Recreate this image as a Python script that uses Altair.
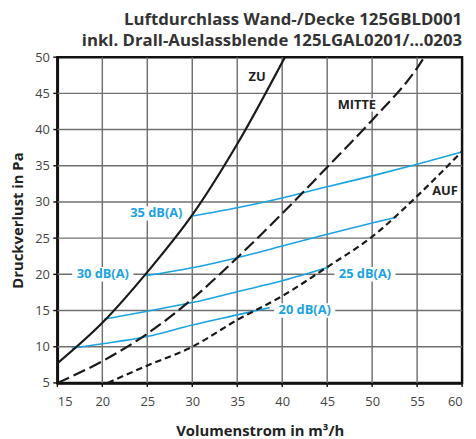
import altair as alt
import pandas as pd

# ---- data ----
zu_x = [15, 20, 25, 30, 35, 40.3]
zu_y = [7.7, 13.3, 20.3, 28.2, 38.0, 50]
mitte_x = [15, 20, 25, 30, 35, 40, 45, 50, 55, 55.8]
mitte_y = [5, 8.0, 11.8, 16.6, 22.3, 28.4, 34.8, 41.3, 48.5, 50]
auf_x = [20.6, 25, 30, 35, 40, 45, 50, 55, 60]
auf_y = [5, 7.4, 10.0, 13.7, 17.0, 21.0, 25.2, 30.8, 37.0]

db35_x = [30, 35, 40, 45, 50, 55, 60]
db35_y = [28.05, 29.2, 30.55, 32.1, 33.6, 35.2, 36.9]
db30_x = [24.8, 30, 35, 40, 45, 50, 52.7]
db30_y = [19.8, 20.9, 22.3, 23.9, 25.55, 27.1, 27.9]
db25_x = [20.2, 25, 30, 35, 40, 45.2]
db25_y = [13.8, 14.9, 16.1, 17.6, 19.1, 21.0]
db20_x = [16.6, 20, 25, 30, 35, 38.6]
db20_y = [9.8, 10.4, 11.4, 13.0, 14.4, 15.4]

db_labels = ["35 dB(A)", "30 dB(A)", "25 dB(A)", "20 dB(A)"]
db_label_x = [26.0, 20.05, 49.2, 42.5]
db_label_y = [28.4, 20, 20, 15]

curve_labels = ["ZU", "MITTE", "AUF"]
curve_label_x = [37.2, 48.3, 58.1]
curve_label_y = [47.3, 43.4, 31.5]

x_ticks = [15, 20, 25, 30, 35, 40, 45, 50, 55, 60]
y_ticks = [5, 10, 15, 20, 25, 30, 35, 40, 45, 50]

title_lines = ["Luftdurchlass Wand-/Decke 125GBLD001",
               "inkl. Drall-Auslassblende 125LGAL0201/...0203"]

FONT = "Open Sans"
BLUE = "#1aa3e0"
GRID = "#707070"


def series(xs, ys, name):
    return pd.DataFrame({"x": xs, "y": ys, "s": name, "o": range(len(xs))})


xs = alt.Scale(domain=[15, 60], nice=False, zero=False)
ys = alt.Scale(domain=[5, 50], nice=False, zero=False)
x_axis = alt.Axis(values=x_ticks, title="Volumenstrom in m³/h", grid=False,
                  ticks=False, labelOverlap=False)
y_axis = alt.Axis(values=y_ticks, title="Druckverlust in Pa", grid=False,
                  ticks=False, labelOverlap=False)

X = alt.X("x:Q", scale=xs, axis=x_axis)
Y = alt.Y("y:Q", scale=ys, axis=y_axis)

x0, x1 = x_ticks[0], x_ticks[-1]
y0, y1 = y_ticks[0], y_ticks[-1]

# grid lines and ticks drawn as thin filled bands (about 1.4 px wide)
hw_x = 0.08   # half band width in x units
hw_y = 0.1    # half band width in y units
tick_x = 0.45  # tick length in x units (about 4 px)
tick_y = 0.55  # tick length in y units (about 4 px)
band_rows = []
for t in x_ticks[1:-1]:
    band_rows.append(dict(a=t - hw_x, b=t + hw_x, c=y0, d=y1, k="grid"))
for t in y_ticks[1:-1]:
    band_rows.append(dict(a=x0, b=x1, c=t - hw_y, d=t + hw_y, k="grid"))
for t in x_ticks:
    band_rows.append(dict(a=t - hw_x, b=t + hw_x, c=y0 - tick_y, d=y0, k="tick"))
for t in y_ticks:
    band_rows.append(dict(a=x0 - tick_x, b=x0, c=t - hw_y, d=t + hw_y, k="tick"))
bands_df = pd.DataFrame(band_rows)


def bands(kind, color):
    return alt.Chart(bands_df[bands_df["k"] == kind]).mark_rect(fill=color).encode(
        x=alt.X("a:Q", scale=xs, axis=x_axis), x2=alt.X2("b"),
        y=alt.Y("c:Q", scale=ys, axis=y_axis), y2=alt.Y2("d"))


def line(df, color, width, dash=None):
    kw = dict(color=color, strokeWidth=width, interpolate="monotone", clip=True)
    if dash:
        kw["strokeDash"] = dash
    return alt.Chart(df).mark_line(**kw).encode(x=X, y=Y, order="o:Q")


def label_box(df, hw, hh):
    d = df.copy()
    d["bx0"] = d["x"] - hw
    d["bx1"] = d["x"] + hw
    d["by0"] = d["y"] - hh
    d["by1"] = d["y"] + hh
    return alt.Chart(d).mark_rect(fill="white").encode(
        x=alt.X("bx0:Q", scale=xs, axis=x_axis), x2=alt.X2("bx1"),
        y=alt.Y("by0:Q", scale=ys, axis=y_axis), y2=alt.Y2("by1"))


lab_df = pd.DataFrame({"x": db_label_x, "y": db_label_y, "t": db_labels})
cl_df = pd.DataFrame({"x": curve_label_x, "y": curve_label_y, "t": curve_labels})

bg_db = label_box(lab_df, 3.4, 1.0)
bg_cl = label_box(cl_df[cl_df["t"] == "MITTE"], 2.4, 0.9)

txt_db = alt.Chart(lab_df).mark_text(
    font=FONT, fontSize=13, fontWeight="bold", color=BLUE
).encode(x=X, y=Y, text="t:N")
txt_cl = alt.Chart(cl_df).mark_text(
    font=FONT, fontSize=13, fontWeight="bold", color="#222"
).encode(x=X, y=Y, text="t:N")

chart = alt.layer(
    bg_db, bg_cl,
    bands("grid", GRID),
    bands("tick", "#111"),
    bg_db, bg_cl,
    line(series(db35_x, db35_y, "35"), BLUE, 1.6),
    line(series(db30_x, db30_y, "30"), BLUE, 1.6),
    line(series(db25_x, db25_y, "25"), BLUE, 1.6),
    line(series(db20_x, db20_y, "20"), BLUE, 1.6),
    line(series(zu_x, zu_y, "ZU"), "#1a1a1a", 2.2),
    line(series(mitte_x, mitte_y, "MITTE"), "#1a1a1a", 2.2, [13, 5]),
    line(series(auf_x, auf_y, "AUF"), "#1a1a1a", 2.2, [6.5, 4]),
    txt_db, txt_cl,
).properties(
    width=410, height=330,
    autosize=alt.AutoSizeParams(type="none"),
    padding={"left": 50, "top": 47, "right": 6, "bottom": 54},
    title=alt.TitleParams(
        text=title_lines, anchor="end", frame="group", font=FONT, fontSize=17,
        fontWeight="bold", color="#333", lineHeight=21.5, offset=1,
    ),
).configure_view(
    stroke="#111", strokeWidth=2.5
).configure_axis(
    domainColor="#111", domainWidth=2.5,
    labelFont=FONT, labelFontSize=13, labelColor="#444",
    titleFont=FONT, titleFontSize=15, titleFontWeight="bold", titleColor="#222",
).configure_axisX(
    labelPadding=13, titlePadding=15,
).configure_axisY(
    labelPadding=8, titlePadding=9,
)

chart.save("out.html", embed_options={"renderer": "svg", "actions": False})
